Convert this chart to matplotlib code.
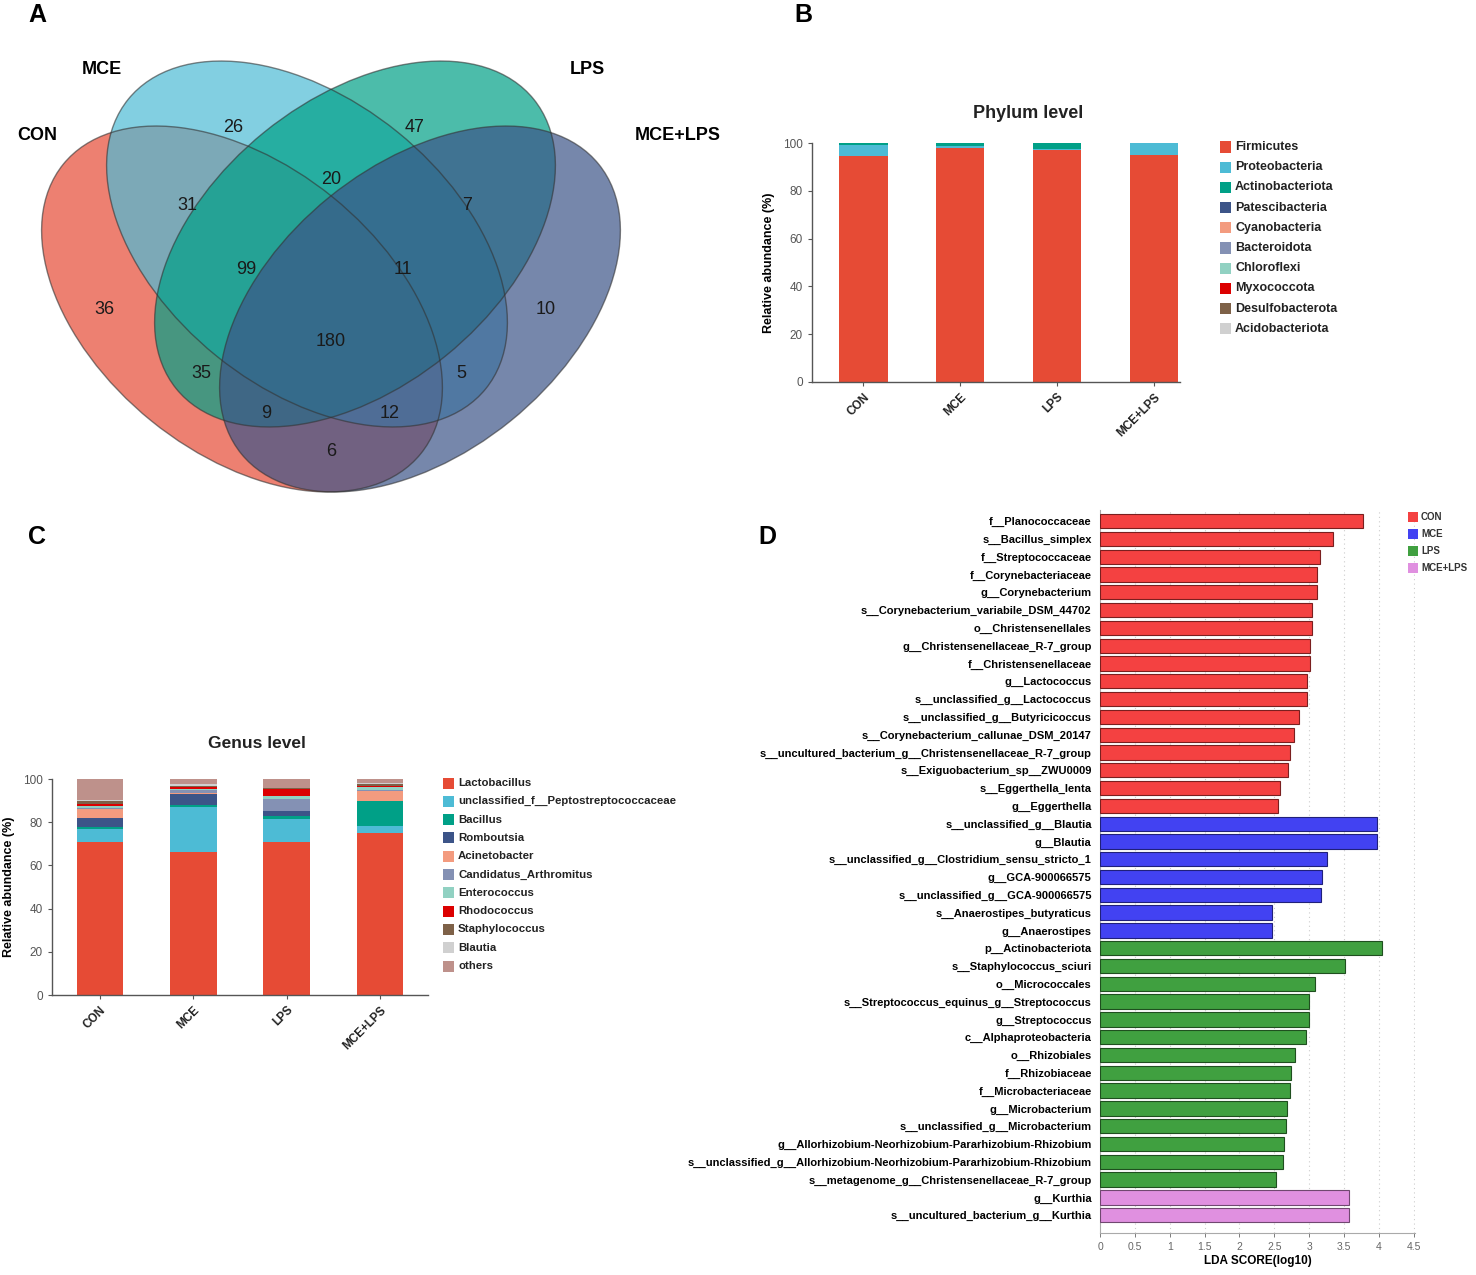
import numpy as np
import matplotlib
matplotlib.use("Agg")
import matplotlib.pyplot as plt
from matplotlib.patches import Ellipse, Rectangle

plt.rcParams['font.family'] = ['Liberation Sans', 'DejaVu Sans']

W, H = 1476, 1275
fig = plt.figure(figsize=(W / 100, H / 100), dpi=100)
fig.patch.set_facecolor('white')


def ax_px(x0, y0, x1, y1):
    return fig.add_axes([x0 / W, 1 - y1 / H, (x1 - x0) / W, (y1 - y0) / H])


# ---------------- data ----------------
groups = ['CON', 'MCE', 'LPS', 'MCE+LPS']
group_colors = ['#E64B35', '#4DBBD5', '#00A087', '#3C5488']

# Venn counts (region label -> count)
venn_regions = ['CON', 'MCE', 'LPS', 'MCE+LPS', 'CON&MCE', 'MCE&LPS', 'LPS&MCE+LPS',
                'CON&MCE+LPS', 'CON&MCE&LPS', 'MCE&LPS&MCE+LPS', 'CON&LPS',
                'MCE&MCE+LPS', 'CON&LPS&MCE+LPS', 'CON&MCE&MCE+LPS', 'ALL']
venn_counts = [36, 26, 47, 10, 31, 20, 7, 6, 99, 11, 35, 5, 9, 12, 180]

phyla = ['Firmicutes', 'Proteobacteria', 'Actinobacteriota', 'Patescibacteria',
         'Cyanobacteria', 'Bacteroidota', 'Chloroflexi', 'Myxococcota',
         'Desulfobacterota', 'Acidobacteriota']
phylum_colors = ['#E64B35', '#4DBBD5', '#00A087', '#3C5488', '#F39B7F',
                 '#8491B4', '#91D1C2', '#DC0000', '#7E6148', '#D0D0D0']
phylum_values = [
    [94.4, 97.9, 97.2, 94.8],   # Firmicutes
    [4.9, 0.8, 0.2, 5.0],       # Proteobacteria
    [0.6, 1.1, 2.5, 0.1],       # Actinobacteriota
    [0.02, 0.05, 0.02, 0.02],   # Patescibacteria
    [0.02, 0.03, 0.02, 0.02],   # Cyanobacteria
    [0.02, 0.03, 0.02, 0.02],   # Bacteroidota
    [0.01, 0.02, 0.01, 0.01],   # Chloroflexi
    [0.01, 0.02, 0.01, 0.01],   # Myxococcota
    [0.01, 0.02, 0.01, 0.01],   # Desulfobacterota
    [0.01, 0.02, 0.01, 0.01],   # Acidobacteriota
]

genera = ['Lactobacillus', 'unclassified_f__Peptostreptococcaceae', 'Bacillus',
          'Romboutsia', 'Acinetobacter', 'Candidatus_Arthromitus', 'Enterococcus',
          'Rhodococcus', 'Staphylococcus', 'Blautia', 'others']
genus_colors = ['#E64B35', '#4DBBD5', '#00A087', '#3C5488', '#F39B7F', '#8491B4',
                '#91D1C2', '#DC0000', '#7E6148', '#D0D0D0', '#BE918B']
genus_values = [
    [71.0, 66.3, 71.0, 74.9],   # Lactobacillus
    [5.9, 20.9, 10.5, 3.4],     # unclassified_f__Peptostreptococcaceae
    [0.9, 0.6, 1.5, 11.3],      # Bacillus
    [4.2, 5.3, 2.2, 0.2],       # Romboutsia
    [3.9, 0.4, 0.2, 4.6],       # Acinetobacter
    [0.9, 1.5, 5.4, 0.4],       # Candidatus_Arthromitus
    [0.8, 0.5, 1.4, 1.6],       # Enterococcus
    [1.0, 0.9, 3.0, 0.3],       # Rhodococcus
    [1.1, 0.4, 0.5, 0.9],       # Staphylococcus
    [0.4, 0.9, 0.2, 0.6],       # Blautia
    [9.9, 2.3, 4.1, 1.8],       # others
]

lda_names = [
    'f__Planococcaceae', 's__Bacillus_simplex', 'f__Streptococcaceae',
    'f__Corynebacteriaceae', 'g__Corynebacterium',
    's__Corynebacterium_variabile_DSM_44702', 'o__Christensenellales',
    'g__Christensenellaceae_R-7_group', 'f__Christensenellaceae', 'g__Lactococcus',
    's__unclassified_g__Lactococcus', 's__unclassified_g__Butyricicoccus',
    's__Corynebacterium_callunae_DSM_20147',
    's__uncultured_bacterium_g__Christensenellaceae_R-7_group',
    's__Exiguobacterium_sp__ZWU0009', 's__Eggerthella_lenta', 'g__Eggerthella',
    's__unclassified_g__Blautia', 'g__Blautia',
    's__unclassified_g__Clostridium_sensu_stricto_1', 'g__GCA-900066575',
    's__unclassified_g__GCA-900066575', 's__Anaerostipes_butyraticus',
    'g__Anaerostipes',
    'p__Actinobacteriota', 's__Staphylococcus_sciuri', 'o__Micrococcales',
    's__Streptococcus_equinus_g__Streptococcus', 'g__Streptococcus',
    'c__Alphaproteobacteria', 'o__Rhizobiales', 'f__Rhizobiaceae',
    'f__Microbacteriaceae', 'g__Microbacterium', 's__unclassified_g__Microbacterium',
    'g__Allorhizobium-Neorhizobium-Pararhizobium-Rhizobium',
    's__unclassified_g__Allorhizobium-Neorhizobium-Pararhizobium-Rhizobium',
    's__metagenome_g__Christensenellaceae_R-7_group',
    'g__Kurthia', 's__uncultured_bacterium_g__Kurthia',
]
lda_scores = [3.78, 3.35, 3.16, 3.12, 3.12, 3.04, 3.04, 3.02, 3.02, 2.97, 2.97,
              2.85, 2.79, 2.72, 2.70, 2.59, 2.55,
              3.98, 3.98, 3.26, 3.19, 3.17, 2.47, 2.47,
              4.05, 3.52, 3.09, 3.00, 3.00, 2.95, 2.80, 2.74, 2.72, 2.68, 2.67,
              2.64, 2.63, 2.53,
              3.58, 3.58]
lda_groups = ['CON'] * 17 + ['MCE'] * 7 + ['LPS'] * 14 + ['MCE+LPS'] * 2
lda_colors = {'CON': '#F44141', 'MCE': '#4242F2', 'LPS': '#40A040', 'MCE+LPS': '#E090E0'}
lda_edges = {'CON': '#7A1F1F', 'MCE': '#20207A', 'LPS': '#1F4F1F', 'MCE+LPS': '#704870'}

# ---------------- Panel A: Venn ----------------
axA = ax_px(0, 0, 740, 510)
axA.set_xlim(0, 740)
axA.set_ylim(510, 0)
axA.axis('off')
ell_a, ell_b = 230 * 2, 144 * 2
ell_specs = [((242, 309), 39), ((307, 244), 39), ((355, 244), -39), ((420, 309), -39)]
for (c, ang), col in zip(ell_specs, group_colors):
    axA.add_patch(Ellipse(c, ell_a, ell_b, angle=ang, facecolor=col, alpha=0.7,
                          edgecolor='none'))
for (c, ang) in ell_specs:
    axA.add_patch(Ellipse(c, ell_a, ell_b, angle=ang, facecolor='none',
                          edgecolor='#333333', lw=1.0, alpha=0.6))
venn_pos = [(104, 309), (233, 127), (415, 127), (546, 309), (187, 205), (331, 179),
            (467, 205), (331, 452), (246, 270), (403, 270), (201, 374), (461, 374),
            (266, 413), (390, 413), (331, 341)]
for (x, y), n in zip(venn_pos, venn_counts):
    axA.text(x, y, str(n), ha='center', va='center', fontsize=13, color='#1a1a1a')
venn_label_pos = [(37, 135), (102, 70), (587, 70), (678, 135)]
for (x, y), g in zip(venn_label_pos, groups):
    axA.text(x, y, g, ha='center', va='center', fontsize=13, fontweight='bold')

# panel letters
for letter, (x, y) in zip('ABCD', [(37, 15), (803, 15), (37, 537), (767, 537)]):
    fig.text(x / W, 1 - y / H, letter, ha='center', va='center', fontsize=18,
             fontweight='bold')


def stacked(ax, values, colors, xlim):
    xs = np.arange(len(groups))
    bottom = np.zeros(len(groups))
    for vals, col in zip(values, colors):
        vals = np.array(vals)
        ax.bar(xs, vals, bottom=bottom, width=0.5, color=col, edgecolor='none')
        bottom += vals
    ax.set_xlim(*xlim)
    ax.set_ylim(0, 100)
    ax.set_yticks([0, 20, 40, 60, 80, 100])
    ax.set_xticks(xs)
    ax.set_xticklabels(groups, rotation=45, ha='right', rotation_mode='anchor',
                       fontsize=8.5, fontweight='bold')
    ax.tick_params(axis='y', labelsize=8.5, colors='#555555', length=3, width=0.8)
    ax.tick_params(axis='x', length=3, width=0.8, colors='#555555')
    for t in ax.get_xticklabels():
        t.set_color('#222222')
    for s in ['top', 'right']:
        ax.spines[s].set_visible(False)
    for s in ['left', 'bottom']:
        ax.spines[s].set_color('#555555')
        ax.spines[s].set_linewidth(1.0)
    ax.set_ylabel('Relative abundance (%)', fontsize=9, fontweight='bold', labelpad=6)


# ---------------- Panel B ----------------
axB = ax_px(812, 143, 1180, 382)
stacked(axB, phylum_values, phylum_colors, (-0.53, 3.27))
fig.text(1028 / W, 1 - 114 / H, 'Phylum level', ha='center', va='center',
         fontsize=13, fontweight='bold', color='#222222')
for i, (name, col) in enumerate(zip(phyla, phylum_colors)):
    y = 147 + i * 20.2
    fig.patches.append(Rectangle((1220 / W, 1 - (y + 5.5) / H), 11 / W, 11 / H,
                                 transform=fig.transFigure, facecolor=col,
                                 edgecolor='none'))
    fig.text(1235 / W, 1 - y / H, name, ha='left', va='center', fontsize=9,
             fontweight='bold', color='#222222')

# ---------------- Panel C ----------------
axC = ax_px(52, 779, 428, 995)
stacked(axC, genus_values, genus_colors, (-0.514, 3.515))
fig.text(257 / W, 1 - 744 / H, 'Genus level', ha='center', va='center',
         fontsize=12.5, fontweight='bold', color='#222222')
for i, (name, col) in enumerate(zip(genera, genus_colors)):
    y = 783 + i * 18.3
    fig.patches.append(Rectangle((443 / W, 1 - (y + 5.5) / H), 11 / W, 11 / H,
                                 transform=fig.transFigure, facecolor=col,
                                 edgecolor='none'))
    fig.text(458 / W, 1 - y / H, name, ha='left', va='center', fontsize=8.2,
             fontweight='bold', color='#222222')

# ---------------- Panel D ----------------
axD = ax_px(1100, 510, 1415, 1233)
ys = np.arange(len(lda_names))
axD.barh(ys, lda_scores, height=0.8,
         color=[lda_colors[g] for g in lda_groups],
         edgecolor=[lda_edges[g] for g in lda_groups], linewidth=0.8, zorder=3)
axD.set_ylim(len(lda_names) - 0.0, -0.62)
axD.set_xlim(0, 4.52)
axD.set_xticks(np.arange(0, 4.51, 0.5))
axD.set_xticklabels(['0', '0.5', '1', '1.5', '2', '2.5', '3', '3.5', '4', '4.5'])
axD.set_yticks(ys)
axD.set_yticklabels(lda_names, fontsize=8, fontweight='bold')
axD.tick_params(axis='y', length=0, pad=6)
axD.tick_params(axis='x', labelsize=7.5, colors='#666666', length=3, width=0.6)
for x in np.arange(0.5, 4.51, 0.5):
    axD.axvline(x, color='#cccccc', lw=0.8, ls=(0, (1, 3)), zorder=1)
for s in ['top', 'right']:
    axD.spines[s].set_visible(False)
for s in ['left', 'bottom']:
    axD.spines[s].set_color('#aaaaaa')
    axD.spines[s].set_linewidth(0.8)
axD.set_xlabel('LDA SCORE(log10)', fontsize=8.5, fontweight='bold', labelpad=2)
for i, g in enumerate(groups):
    y = 517 + i * 17
    fig.patches.append(Rectangle((1408 / W, 1 - (y + 5) / H), 10 / W, 10 / H,
                                 transform=fig.transFigure, facecolor=lda_colors[g],
                                 edgecolor='none'))
    fig.text(1421 / W, 1 - y / H, g, ha='left', va='center', fontsize=7,
             fontweight='bold', color='#333333')

fig.savefig('out.png', dpi=100, facecolor='white')
